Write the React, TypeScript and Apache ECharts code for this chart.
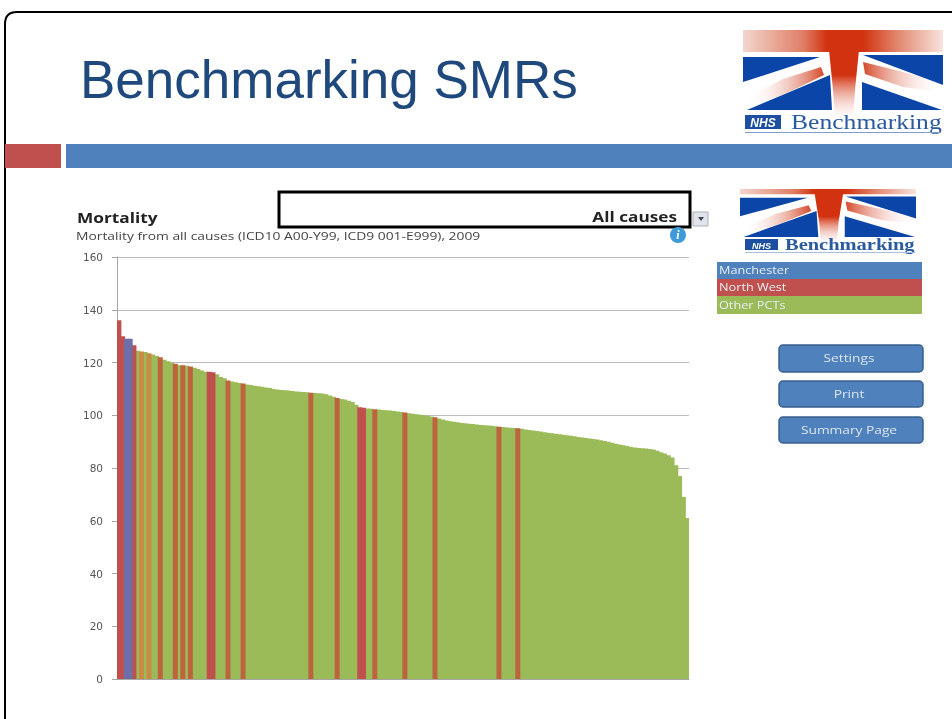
import React, { useEffect, useRef } from "react";
import * as echarts from "echarts";

const pageTitle = "Benchmarking SMRs";
const chartTitle = "Mortality";
const chartSubtitle = "Mortality from all causes (ICD10 A00-Y99, ICD9 001-E999), 2009";
const selection = "All causes";
const legendNames = ["Manchester", "North West", "Other PCTs"];
const buttonNames = ["Settings", "Print", "Summary Page"];

const smr = [
  136, 130, 129, 129, 126.5, 124.5, 124.2, 124, 123.5, 123,
  122.5, 122, 121, 120.5, 120, 119.5, 119, 119, 118.8, 118.5,
  118, 117.5, 117, 116.5, 116.5, 116.3, 115.5, 114.5, 114, 113.2,
  112.8, 112.5, 112.2, 112, 111.7, 111.5, 111.2, 111, 110.8, 110.5,
  110.3, 110, 109.8, 109.6, 109.5, 109.4, 109.2, 109, 108.9, 108.8,
  108.7, 108.5, 108.4, 108.3, 108.2, 108, 107.5, 107, 106.5, 106.2,
  106, 105.5, 105, 104, 103, 102.8, 102.6, 102.5, 102.3, 102.2,
  102, 101.9, 101.8, 101.6, 101.4, 101.2, 101, 100.8, 100.6, 100.4,
  100.2, 100, 99.8, 99.5, 99.2, 98.8, 98.4, 98, 97.7, 97.5,
  97.3, 97.1, 97, 96.8, 96.7, 96.5, 96.3, 96.2, 96.1, 96,
  95.8, 95.6, 95.5, 95.4, 95.3, 95.2, 95.1, 94.9, 94.6, 94.4,
  94.2, 94, 93.8, 93.6, 93.4, 93.2, 93, 92.8, 92.6, 92.4,
  92.2, 92, 91.8, 91.6, 91.4, 91.2, 91, 90.8, 90.5, 90.2,
  90, 89.6, 89.2, 88.9, 88.6, 88.3, 88, 87.8, 87.6, 87.5,
  87.4, 87.2, 87, 86.5, 86, 85.5, 84.8, 84, 81, 77,
  69, 61,
];
const manchesterIdx = [2, 3];
const northWestIdx = [0, 1, 4, 6, 8, 11, 15, 17, 19, 24, 25, 29, 33, 51, 58, 64, 65, 68, 76, 84, 101, 106];
// Shades the red bars take in the blurry picture: wide ones stay red, thin ones turn browner.
const northWestSolidIdx = [0, 1, 4, 24, 25, 64, 65];
const northWestPaleIdx = [6, 8];

const BLUE = "#4f81bd";
const RED = "#c0504d";
const GREEN = "#9bbb59";
const THIN_RED = "#bd643f";
const PALE_RED = "#c98a45";
const PURPLE = "#6d6fa6";
const FLAG = "#0b45a8";
const CROSS = "#d2320f";
const TEXTFONT = "'Open Sans', sans-serif";

echarts.graphic.registerShape(
  "frame",
  echarts.graphic.extendPath("M5,719 L5,24 Q5,12 17,12 L952,12", {}) as any
);

const grad = (x: number, y: number, x2: number, y2: number, stops: [number, string][]) =>
  new echarts.graphic.LinearGradient(
    x, y, x2, y2,
    stops.map(([offset, color]) => ({ offset, color }))
  );

function flag(x: number, y: number, sx: number, sy: number, barTop: number) {
  const poly = (points: number[][], fill: any) => ({ type: "polygon", shape: { points }, style: { fill } });
  return {
    type: "group", x, y, scaleX: sx, scaleY: sy,
    children: [
      poly([[0, 27], [77, 27], [0, 52]], FLAG),
      poly([[4, 80], [87, 45], [89, 80]], FLAG),
      poly([[120, 25], [200, 25], [200, 55]], FLAG),
      poly([[119, 52], [199, 80], [119, 80]], FLAG),
      poly([[78, 37], [81, 45], [40, 65], [6, 75], [3, 68], [40, 49]],
        grad(0, 0, 1, 0, [[0, "rgba(255,255,255,0)"], [1, "#d4492b"]])),
      poly([[120, 32], [122, 44], [160, 57], [200, 62], [200, 54], [160, 42]],
        grad(0, 0, 1, 0, [[0, "#d4492b"], [1, "rgba(255,255,255,0)"]])),
      poly([[84, barTop], [118, barTop], [112, 60], [110, 90], [92, 90], [90, 60]],
        grad(0, 0, 0, 1, [[0, CROSS], [0.5, CROSS], [1, "rgba(255,255,255,0.2)"]])),
      {
        type: "rect", shape: { x: 0, y: barTop, width: 200, height: 22 - barTop },
        style: {
          fill: grad(0, 0, 1, 0, [
            [0, "#f3d6cd"], [0.3, "#df7f66"], [0.42, CROSS], [0.6, CROSS], [0.78, "#e28a72"], [1, "#f8e4de"],
          ]),
        },
      },
    ],
  };
}

function wordmark(x: number, y: number, boxW: number, boxH: number, size: number, gap: number, weight: string) {
  return [
    { type: "rect", shape: { x, y, width: boxW, height: boxH }, style: { fill: "#1d4fa0" } },
    {
      type: "text", x: x + boxW / 2, y: y + boxH / 2 + 1,
      style: { text: "NHS", fill: "#fff", font: `italic bold ${boxH - 2}px 'Liberation Sans'`, align: "center", verticalAlign: "middle" },
    },
    {
      type: "text", x: x + boxW + gap, y: y + boxH / 2, scaleX: 1.28,
      style: { text: "Benchmarking", fill: "#2b5a9e", font: `${weight} ${size}px 'Liberation Serif'`, verticalAlign: "middle" },
    },
  ];
}

function App() {
  const ref = useRef<HTMLDivElement>(null);
  useEffect(() => {
    const chart = echarts.init(ref.current!, undefined, { renderer: "svg" });

    const categories = smr.map((_, i) => `PCT ${i + 1}`);
    const otherData = smr.map((v, i) =>
      manchesterIdx.includes(i) || northWestIdx.includes(i) ? null : v
    );
    const manchesterData = smr.map((v, i) => (manchesterIdx.includes(i) ? v : null));
    const northWestData = smr.map((v, i) => {
      if (!northWestIdx.includes(i)) return null;
      const color = northWestSolidIdx.includes(i) ? RED : northWestPaleIdx.includes(i) ? PALE_RED : THIN_RED;
      return { value: v, itemStyle: { color } };
    });

    const legendRows = [
      { y: 262, h: 17, fill: BLUE },
      { y: 279, h: 17, fill: RED },
      { y: 296, h: 18, fill: GREEN },
    ];
    const buttonRows = [
      { y: 345, h: 27 },
      { y: 381, h: 26 },
      { y: 417, h: 26 },
    ];

    chart.setOption({
      animation: false,
      backgroundColor: "#fff",
      title: {
        text: pageTitle,
        left: 75,
        top: 48,
        textStyle: { fontFamily: "'Liberation Sans'", fontSize: 53, fontWeight: "normal", color: "#1f497d" },
      },
      grid: { left: 117, right: 263, top: 257, bottom: 40, containLabel: false },
      xAxis: {
        type: "category",
        data: categories,
        axisLabel: { show: false },
        axisTick: { show: false },
        axisLine: { lineStyle: { color: "#a6a6a6", width: 1 } },
      },
      yAxis: {
        type: "value",
        min: 0,
        max: 160,
        interval: 20,
        axisLine: { show: true, lineStyle: { color: "#a6a6a6" } },
        axisTick: { show: true, length: 5, lineStyle: { color: "#a6a6a6" } },
        axisLabel: { fontFamily: "'DejaVu Sans'", fontSize: 10.5, color: "#555", margin: 14 },
        splitLine: { lineStyle: { color: "#bcbcbc", width: 1 } },
      },
      series: [
        { name: legendNames[2], type: "bar", stack: "all", barWidth: 5, data: otherData, itemStyle: { color: GREEN } },
        { name: legendNames[1], type: "bar", stack: "all", barWidth: 5, data: northWestData, itemStyle: { color: RED } },
        { name: legendNames[0], type: "bar", stack: "all", barWidth: 5, data: manchesterData, itemStyle: { color: PURPLE } },
      ],
      graphic: [
        { type: "frame", style: { fill: "none", stroke: "#000", lineWidth: 2 } },
        { type: "rect", shape: { x: 5, y: 144, width: 56, height: 24 }, style: { fill: RED } },
        { type: "rect", shape: { x: 66, y: 144, width: 886, height: 24 }, style: { fill: BLUE } },

        flag(743, 30, 1, 1, 0),
        ...wordmark(745, 115, 36, 14, 20, 10, "normal"),
        { type: "rect", shape: { x: 745, y: 132, width: 196, height: 1 }, style: { fill: "#7f9fca" } },

        flag(740, 178, 0.88, 0.736, 15),
        ...wordmark(745, 239, 33, 11, 16, 7, "bold"),
        { type: "rect", shape: { x: 745, y: 252, width: 170, height: 1 }, style: { fill: "#a9bedb" } },

        { type: "text", x: 77, y: 210, scaleX: 1.15, style: { text: chartTitle, fill: "#222", font: `bold 15px ${TEXTFONT}` } },
        { type: "text", x: 76, y: 231, scaleX: 1.258, style: { text: chartSubtitle, fill: "#444", font: `11px ${TEXTFONT}` } },

        { type: "rect", shape: { x: 279, y: 192, width: 411, height: 35 }, style: { fill: "#fff", stroke: "#000", lineWidth: 3 } },
        { type: "text", x: 677, y: 210, scaleX: 1.23, style: { text: selection, fill: "#222", font: `bold 14px ${TEXTFONT}`, align: "right" } },
        { type: "rect", shape: { x: 693, y: 212, width: 15, height: 14 }, style: { fill: "#dfe3ea", stroke: "#aab0ba", lineWidth: 1 } },
        { type: "polygon", shape: { points: [[698, 217], [704, 217], [701, 221]] }, style: { fill: "#445" } },
        { type: "circle", shape: { cx: 678, cy: 235, r: 8 }, style: { fill: "#3f9bd8" } },
        { type: "text", x: 678, y: 235, style: { text: "i", fill: "#fff", font: "italic bold 12px 'Liberation Serif'", align: "center", verticalAlign: "middle" } },

        ...legendRows.flatMap((r, i) => [
          { type: "rect", shape: { x: 717, y: r.y, width: 205, height: r.h }, style: { fill: r.fill } },
          {
            type: "text", x: 719, y: r.y + r.h / 2, scaleX: 1.27,
            style: { text: legendNames[i], fill: "#e8eef4", font: `10px ${TEXTFONT}`, verticalAlign: "middle" },
          },
        ]),
        ...buttonRows.flatMap((r, i) => [
          {
            type: "rect", shape: { x: 779, y: r.y, width: 144, height: r.h, r: 4 },
            style: { fill: BLUE, stroke: "#3a5f8c", lineWidth: 1.5 },
          },
          {
            type: "text", x: 849, y: r.y + r.h / 2, scaleX: 1.25,
            style: { text: buttonNames[i], fill: "#dce6f0", font: `11px ${TEXTFONT}`, align: "center", verticalAlign: "middle" },
          },
        ]),
      ],
    });
    return () => chart.dispose();
  }, []);

  return (
    <div
      ref={ref}
      style={{ position: "fixed", left: 0, top: 0, width: 952, height: 719, filter: "blur(0.6px)" }}
    />
  );
}

export default App;
